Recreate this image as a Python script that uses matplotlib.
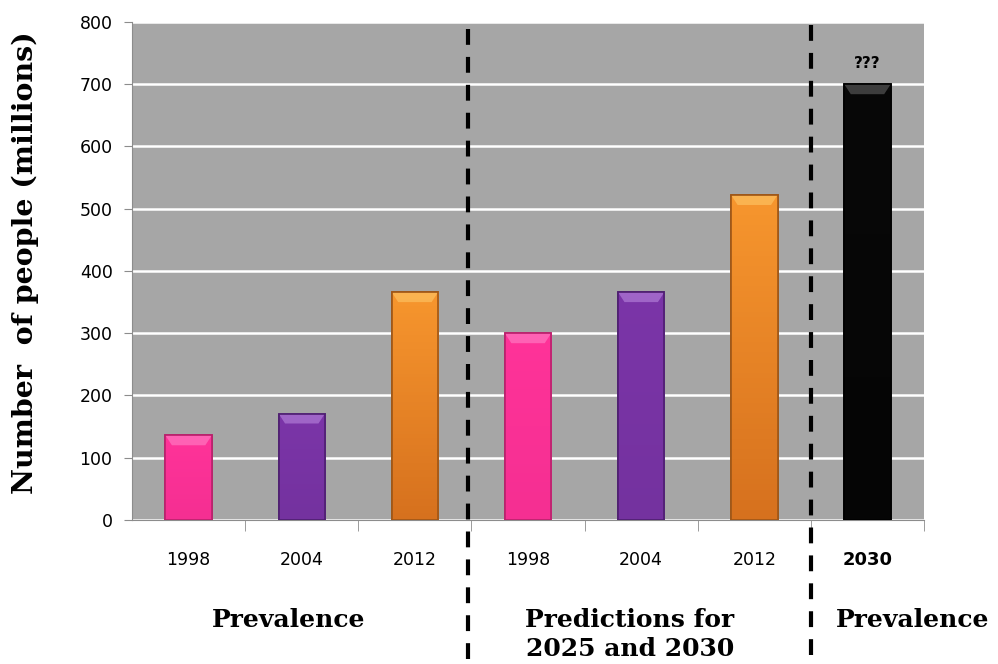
# Number of people (millions): prevalence and predictions

import numpy as np
import matplotlib.pyplot as plt
import matplotlib.transforms as mtransforms
from matplotlib.patches import Polygon
from matplotlib.colors import to_rgb

# Data
years = ['1998', '2004', '2012', '1998', '2004', '2012', '2030']
people = [136, 171, 366, 300, 366, 522, 700]
bar_colors = ['#ff3399', '#7b35a8', '#f7962e', '#ff3399', '#7b35a8', '#f7962e', '#080808']
base_colors = ['#f52f92', '#74329f', '#d6711e', '#f52f92', '#74329f', '#d6711e', '#050505']
edge_colors = ['#b8226c', '#4e1f70', '#9e5617', '#b8226c', '#4e1f70', '#9e5617', '#000000']
top_colors = ['#ff77c0', '#b07ad6', '#fcc060', '#ff77c0', '#b07ad6', '#fcc060', '#555555']
groups = ['Prevalence', 'Predictions for\n2025 and 2030', 'Prevalence']
group_x = [0.88, 3.9, 6.4]

fig = plt.figure(figsize=(9.98, 6.64), dpi=100)
ax = fig.add_axes([0.1323, 0.2169, 0.7936, 0.75])

x = np.arange(len(years))
ax.set_facecolor('#a6a6a6')
ax.set_yticks(np.arange(0, 801, 100))
ax.grid(axis='y', color='white', lw=1.8)
ax.set_axisbelow(True)

bars = ax.bar(x, people, width=0.41, color=bar_colors, edgecolor=edge_colors, lw=1.2, zorder=3)

# vertical shading and a bevel on top of every bar
for b, c_top, c_bot, tc in zip(bars, bar_colors, base_colors, top_colors):
    x0, w, h = b.get_x(), b.get_width(), b.get_height()
    t = np.linspace(1, 0, 64)[:, None, None]
    grad = t * np.array(to_rgb(c_top)) + (1 - t) * np.array(to_rgb(c_bot))
    im = ax.imshow(grad, extent=[x0, x0 + w, 0, h], aspect='auto', zorder=3.5)
    im.set_clip_path(b)
    d = 0.14 * w
    poly = Polygon([[x0, h], [x0 + w, h], [x0 + w - d, h - 16], [x0 + d, h - 16]],
                   closed=True, facecolor=tc, edgecolor='none', alpha=0.7, zorder=4)
    ax.add_patch(poly)
    ax.bar(b.get_x() + w / 2, h, width=w, facecolor='none', edgecolor=b.get_edgecolor(),
           lw=1.2, zorder=4.5)

ax.set_xlim(-0.5, 6.5)
ax.set_ylim(0, 800)

ax.text(x[-1], people[-1] + 22, '???', ha='center', va='bottom', fontsize=11, fontweight='bold')

for s in ['top', 'right']:
    ax.spines[s].set_visible(False)
for s in ['left', 'bottom']:
    ax.spines[s].set_color('#8c8c8c')

ax.set_xticks(x)
ax.set_xticklabels(years, fontsize=12.5)
ax.set_xticks(np.arange(0.5, 7, 1), minor=True)
ax.tick_params(axis='x', which='major', length=0, pad=22)
ax.tick_params(axis='x', which='minor', length=8, color='#8c8c8c')
ax.tick_params(axis='y', length=6, color='#8c8c8c', labelsize=12.5, pad=8)
lbl = ax.get_xticklabels()[-1]
lbl.set_fontweight('bold')
lbl.set_fontsize(13)

# dashed separators run from the top of the plot down to the bottom of the figure
trans = mtransforms.blended_transform_factory(ax.transData, fig.transFigure)
for xs, ytop in [(2.47, 0.956), (5.5, 0.962)]:
    ax.plot([xs, xs], [ytop, 0], transform=trans, color='black', lw=3,
            linestyle=(0, (3.8, 2.9)), clip_on=False, zorder=5)

for gx, g in zip(group_x, groups):
    ax.text(gx, 0.084, g, transform=trans, ha='center', va='top', fontsize=18,
            fontweight='bold', family='DejaVu Serif', linespacing=1.25)

fig.text(0.025, 0.605, 'Number  of people (millions)', rotation=90, ha='center', va='center',
         fontsize=20.5, fontweight='bold', family='DejaVu Serif')

fig.savefig('out.png', dpi=100)
